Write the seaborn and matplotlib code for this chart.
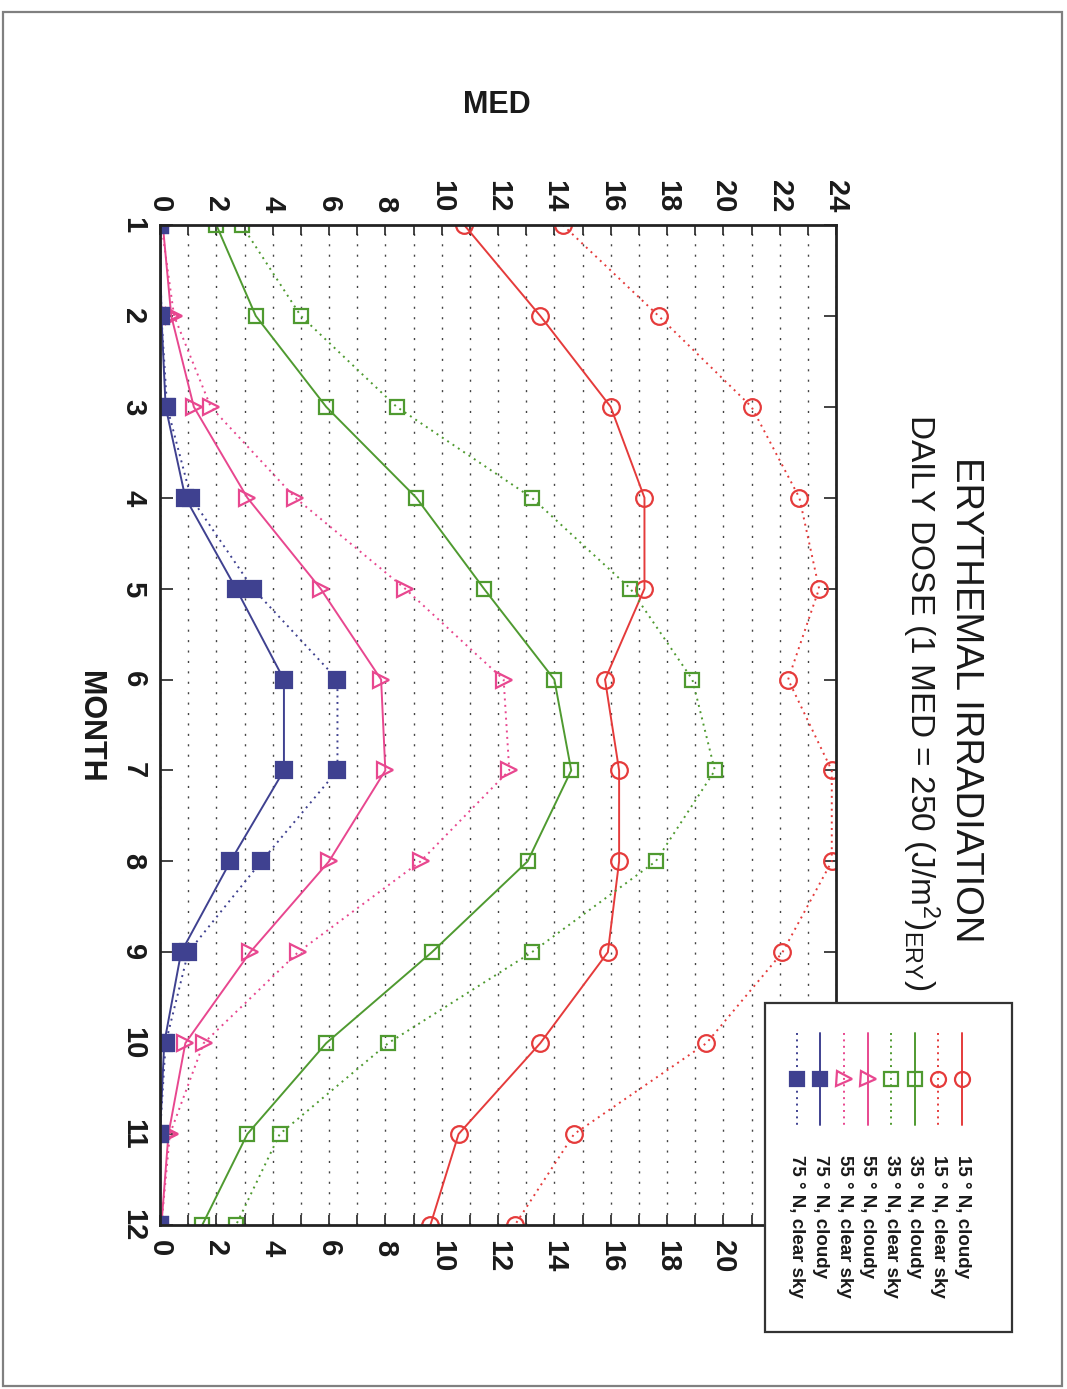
import matplotlib
matplotlib.use("Agg")
import matplotlib.pyplot as plt
from matplotlib.patches import Rectangle
from matplotlib.lines import Line2D
import seaborn as sns

# ---------------- data (MED per day, by month) ----------------
months = list(range(1, 13))
med_15n_cloudy = [10.8, 13.5, 16.0, 17.2, 17.2, 15.8, 16.3, 16.3, 15.9, 13.5, 10.6, 9.6]
med_15n_clear = [14.3, 17.7, 21.0, 22.7, 23.4, 22.3, 23.85, 23.85, 22.1, 19.4, 14.7, 12.6]
med_35n_cloudy = [2.0, 3.4, 5.9, 9.1, 11.5, 14.0, 14.6, 13.05, 9.65, 5.9, 3.1, 1.5]
med_35n_clear = [2.9, 5.0, 8.4, 13.2, 16.7, 18.9, 19.7, 17.6, 13.2, 8.1, 4.25, 2.7]
med_55n_cloudy = [0.1, 0.4, 1.2, 3.1, 5.7, 7.85, 8.0, 6.0, 3.2, 0.9, 0.3, 0.05]
med_55n_clear = [0.05, 0.5, 1.8, 4.8, 8.7, 12.2, 12.4, 9.25, 4.9, 1.55, 0.35, 0.05]
med_75n_cloudy = [0.0, 0.05, 0.2, 0.9, 2.7, 4.4, 4.4, 2.5, 0.75, 0.15, 0.0, 0.0]
med_75n_clear = [0.0, 0.05, 0.25, 1.1, 3.3, 6.3, 6.3, 3.6, 1.0, 0.2, 0.0, 0.0]

series_labels = ["15 ° N, cloudy", "15 ° N, clear sky",
                 "35 ° N, cloudy", "35 ° N, clear sky",
                 "55 ° N, cloudy", "55 ° N, clear sky",
                 "75 ° N, cloudy", "75 ° N, clear sky"]
top_ticks = list(range(0, 25, 2))
bottom_ticks = list(range(0, 21, 2))
title = "ERYTHEMAL IRRADIATION"
subtitle = r"DAILY DOSE (1 MED = 250 (J/m$^2$)$_{\mathrm{ERY}}$)"

series = [med_15n_cloudy, med_15n_clear, med_35n_cloudy, med_35n_clear,
          med_55n_cloudy, med_55n_clear, med_75n_cloudy, med_75n_clear]

# ---------------- style ----------------
sns.set_style("white")
plt.rcParams["font.family"] = ["Liberation Sans", "DejaVu Sans"]
plt.rcParams["mathtext.fontset"] = "custom"
plt.rcParams["mathtext.rm"] = "Liberation Sans"
plt.rcParams["mathtext.it"] = "Liberation Sans"

RED, GREEN, PINK, NAVY = "#e53b3b", "#4f9a30", "#e8478f", "#3f4190"
DOT = (0, (1, 2.3))
styles = [
    dict(color=RED, ls="-", marker="o", mfc="none", ms=12),
    dict(color=RED, ls=DOT, marker="o", mfc="none", ms=12),
    dict(color=GREEN, ls="-", marker="s", mfc="none", ms=10.5),
    dict(color=GREEN, ls=DOT, marker="s", mfc="none", ms=10.5),
    dict(color=PINK, ls="-", marker=">", mfc="none", ms=12),
    dict(color=PINK, ls=DOT, marker=">", mfc="none", ms=12),
    dict(color=NAVY, ls="-", marker="s", mfc=NAVY, ms=11),
    dict(color=NAVY, ls=DOT, marker="s", mfc=NAVY, ms=11),
]

W, H = 1067, 1389
fig = plt.figure(figsize=(W / 100, H / 100), dpi=100)


def fx(px):
    return px / W


def fy(py):
    return 1 - py / H


# page border
fig.add_artist(Rectangle((fx(3), fy(1386)), (1062 - 3) / W, (1386 - 12) / H,
                         transform=fig.transFigure, fill=False,
                         edgecolor="#808080", lw=1.6, zorder=0))

ax = fig.add_axes([fx(160), fy(1225), (836 - 160) / W, (1225 - 225) / H])

for vals, st in zip(series, styles):
    sns.lineplot(x=vals, y=months, orient="y", sort=False, errorbar=None,
                 ax=ax, legend=False, color=st["color"], linestyle=st["ls"],
                 linewidth=1.4, marker=st["marker"], markersize=st["ms"],
                 markerfacecolor=st["mfc"], markeredgecolor=st["color"],
                 markeredgewidth=1.6)

ax.set_xlim(0, 24)
ax.set_ylim(12, 1)
ax.set_xlabel("")
ax.set_ylabel("")

TICK_FS = 21

# x (MED) ticks: labels on top, ticks top and bottom
ax.set_xticks(top_ticks, labels=[str(t) for t in top_ticks])
ax.set_xticks(list(range(0, 25)), minor=True)
ax.tick_params(axis="x", which="both", direction="in", top=True, bottom=True,
               labeltop=True, labelbottom=False, length=7, width=1.2,
               color="#222")
ax.tick_params(axis="x", which="major", labelsize=TICK_FS, labelrotation=-90, pad=9)

sec = ax.secondary_xaxis("bottom")
sec.set_xticks(bottom_ticks, labels=[str(t) for t in bottom_ticks])
sec.tick_params(length=0, labelsize=TICK_FS, labelrotation=-90, pad=11)
sec.spines["bottom"].set_visible(False)

# y (month) ticks
ax.set_yticks(months, labels=[str(m) for m in months])
ax.tick_params(axis="y", direction="in", left=True, right=True, length=9,
               width=1.2, labelsize=TICK_FS, labelrotation=-90, pad=9, color="#222")
for lab in ax.get_yticklabels():
    lab.set_va("center")
for lab in ax.get_yticklabels() + ax.get_xticklabels() + sec.get_xticklabels():
    lab.set_fontweight("bold")
    lab.set_color("#1a1a1a")

for sp in ax.spines.values():
    sp.set_linewidth(2)
    sp.set_color("#222")

ax.xaxis.grid(True, which="both", linestyle=(0, (1.5, 6)), color="#444", lw=1)
ax.yaxis.grid(False)

# axis labels and titles
fig.text(fx(90), fy(727), "MONTH", rotation=-90, ha="center", va="center",
         fontsize=22, fontweight="bold", color="#1a1a1a")
fig.text(fx(497), fy(105), "MED", ha="center", va="center",
         fontsize=22, fontweight="bold", color="#1a1a1a")
fig.text(fx(966), fy(700), title, rotation=-90, ha="center", va="center",
         fontsize=27.5, color="#1a1a1a")
fig.text(fx(921), fy(702), subtitle, rotation=-90, ha="center", va="center",
         fontsize=24, color="#1a1a1a")

# legend (drawn rotated, as in the reference)
fig.add_artist(Rectangle((fx(765), fy(1332)), (1012 - 765) / W, (1332 - 1003) / H,
                         transform=fig.transFigure, facecolor="white",
                         edgecolor="#333", lw=1.6, zorder=5))
leg_x0, leg_dx = 962, -23.6
for i, (lab, st) in enumerate(zip(series_labels, styles)):
    x = fx(leg_x0 + i * leg_dx)
    fig.add_artist(Line2D([x, x], [fy(1033), fy(1125)], transform=fig.transFigure,
                          color=st["color"], linestyle=st["ls"], lw=1.4, zorder=6))
    fig.add_artist(Line2D([x], [fy(1079)], transform=fig.transFigure,
                          color=st["color"], marker=st["marker"],
                          markersize=st["ms"] * 0.9, markerfacecolor=st["mfc"],
                          markeredgecolor=st["color"], markeredgewidth=1.6,
                          linestyle="none", zorder=6))
    fig.text(x, fy(1155), lab, rotation=-90, ha="center", va="top",
             fontsize=13.5, fontweight="bold", zorder=7, color="#1a1a1a")

fig.savefig("out.png", dpi=100)
